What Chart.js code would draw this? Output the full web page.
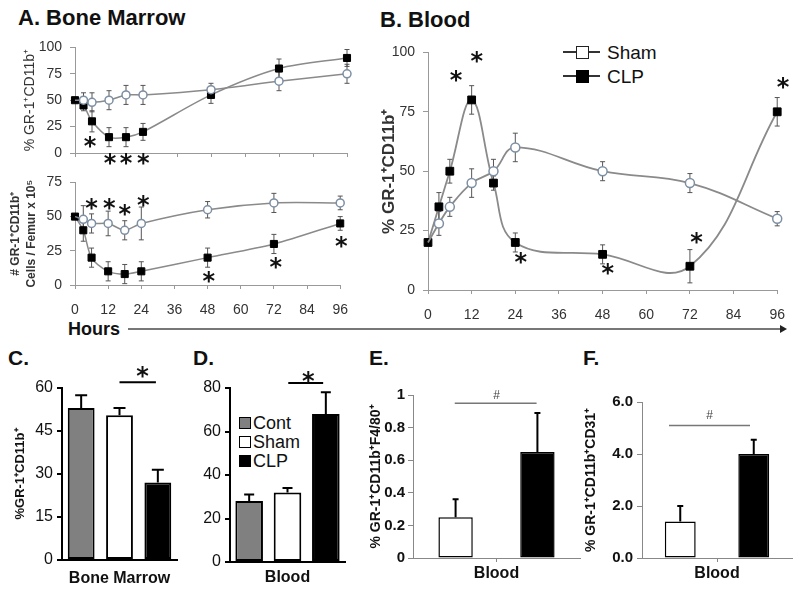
<!DOCTYPE html>
<html><head><meta charset="utf-8">
<script src="https://cdn.jsdelivr.net/npm/chart.js@4.4.1/dist/chart.umd.min.js"></script>
<style>
html,body{margin:0;padding:0;background:#fff;width:800px;height:590px;overflow:hidden;font-family:"Liberation Sans",Arial,sans-serif;}
canvas{position:absolute;}
.t{position:absolute;font-weight:bold;white-space:nowrap;line-height:1;color:#111;}
.lg{position:absolute;white-space:nowrap;line-height:1;color:#111;}
.sq{position:absolute;box-sizing:border-box;}
</style></head><body>
<svg style="position:absolute;left:0;top:0" width="800" height="590">
  <line x1="128" y1="329" x2="781" y2="329" stroke="#777" stroke-width="2"/>
  <polygon points="780,325 787,329 780,333" fill="#222"/>
</svg>
<div class="t" style="left:18px;top:7px;font-size:22px">A. Bone Marrow</div>
<div class="t" style="left:380px;top:9px;font-size:22px">B. Blood</div>
<div class="t" style="left:8px;top:347px;font-size:21px">C.</div>
<div class="t" style="left:193px;top:347px;font-size:21px">D.</div>
<div class="t" style="left:369px;top:347px;font-size:21px">E.</div>
<div class="t" style="left:583px;top:347px;font-size:21px">F.</div>
<div class="t" style="left:68px;top:320px;font-size:18px">Hours</div>

<!-- legend B -->
<div style="position:absolute;left:563px;top:51px;width:37px;height:2px;background:#333"></div>
<div class="sq" style="left:576px;top:46px;width:13px;height:13px;background:#fff;border:1.5px solid #222"></div>
<div class="lg" style="left:607px;top:43px;font-size:19px">Sham</div>
<div style="position:absolute;left:563px;top:75px;width:37px;height:2px;background:#333"></div>
<div class="sq" style="left:576px;top:70px;width:13px;height:13px;background:#000;border:1.5px solid #000"></div>
<div class="lg" style="left:607px;top:67px;font-size:19px">CLP</div>

<!-- legend D -->
<div class="sq" style="left:239px;top:417px;width:12px;height:12px;background:#808080;border:1.5px solid #000"></div>
<div class="lg" style="left:253px;top:414px;font-size:18px">Cont</div>
<div class="sq" style="left:239px;top:436px;width:12px;height:12px;background:#fff;border:1.5px solid #000"></div>
<div class="lg" style="left:253px;top:433px;font-size:18px">Sham</div>
<div class="sq" style="left:239px;top:455px;width:12px;height:12px;background:#000;border:1.5px solid #000"></div>
<div class="lg" style="left:253px;top:452px;font-size:18px">CLP</div>

<script>
// ---------------- data ----------------
const hours = [0, 3, 6, 12, 18, 24, 48, 72, 96];
const hourTicks = [0, 12, 24, 36, 48, 60, 72, 84, 96];

const aPctSham    = [50, 50, 48, 50, 55, 55, 60, 68, 75];
const aPctShamErr = [0, 7, 9, 9, 9, 9, 6, 9, 9];
const aPctClp     = [50, 45, 30, 15, 15, 20, 55, 80, 90];
const aPctClpErr  = [0, 5, 10, 9, 9, 8, 8, 9, 8];
const aPctStars   = [[5.3, 10], [12.4, -6], [18, -6], [24.1, -6]];

const aNumSham    = [50, 48, 45, 45, 40, 45, 55, 60, 60];
const aNumShamErr = [0, 10, 7, 9, 7, 12, 6, 7, 5];
const aNumClp     = [50, 40, 20, 10, 8, 10, 20, 30, 45];
const aNumClpErr  = [0, 8, 7, 7, 7, 7, 7, 7, 5];
const aNumStars   = [[6, 59], [12.4, 59], [18, 54.5], [24.7, 61.5], [48.4, 5.6], [72.7, 16], [96.4, 31.5]];

const bSham    = [20, 28, 35, 45, 50, 60, 50, 45, 30];
const bShamErr = [0, 5, 4, 6, 5, 6, 4, 4, 3];
const bClp     = [20, 35, 50, 80, 45, 20, 15, 10, 75];
const bClpErr  = [0, 6, 5, 6, 3, 4, 4, 7, 6];
const bStars   = [[7.7, 90], [13.4, 98], [25.5, 13.6], [49.4, 8.7], [73.8, 22], [97.6, 87]];

const groups = ['Cont', 'Sham', 'CLP'];
const cBoneMarrow    = [53, 50.5, 27];
const cBoneMarrowErr = [4.5, 2.5, 4.5];
const cSigLine = [1.0, 1.95, 62];
const cSigMark = [1.6, 65.6];

const dBlood    = [28, 32, 68];
const dBloodErr = [3, 2, 10];
const dSigLine = [1.02, 1.93, 82.3];
const dSigMark = [1.54, 85];

const bloodCat = ['Blood'];
const eSham = [0.25], eShamErr = [0.11];
const eClp  = [0.65], eClpErr  = [0.24];
const eSigLine = [-0.25, 0.24, 0.95];
const eSigMark = [0, 1.0];

const fSham = [1.4], fShamErr = [0.6];
const fClp  = [4.0], fClpErr  = [0.55];
const fSigLine = [-0.32, 0.22, 5.1];
const fSigMark = [-0.05, 5.5];

// ---------------- setup ----------------
const FF = "'Liberation Sans', Arial, sans-serif";
Chart.defaults.font.family = FF;
Chart.defaults.color = '#222';
Chart.defaults.animation = false;
Chart.defaults.responsive = false;
Chart.defaults.plugins.legend.display = false;
Chart.defaults.plugins.tooltip.enabled = false;

function drawErr(chart, after) {
  const ctx = chart.ctx, ys = chart.scales.y;
  chart.data.datasets.forEach((ds, i) => {
    if (!ds.errors || (!!ds.errAfter) !== after) return;
    const meta = chart.getDatasetMeta(i);
    ctx.save();
    ctx.strokeStyle = ds.errColor || '#555';
    ctx.lineWidth = ds.errWidth || 1;
    meta.data.forEach((el, j) => {
      const e = ds.errors[j];
      if (!e) return;
      const raw = ds.data[j];
      const v = (typeof raw === 'object') ? raw.y : raw;
      const x = el.x;
      const yTop = ys.getPixelForValue(v + e);
      const yBot = ds.errUpOnly ? ys.getPixelForValue(v) : ys.getPixelForValue(v - e);
      const cap = ds.errCap || 3;
      ctx.beginPath();
      ctx.moveTo(x, yTop); ctx.lineTo(x, yBot);
      ctx.moveTo(x - cap, yTop); ctx.lineTo(x + cap, yTop);
      if (!ds.errUpOnly) { ctx.moveTo(x - cap, yBot); ctx.lineTo(x + cap, yBot); }
      ctx.stroke();
    });
    ctx.restore();
  });
}
const errPlugin = {
  id: 'errbars',
  beforeDatasetsDraw(chart) { drawErr(chart, false); },
  afterDatasetsDraw(chart) { drawErr(chart, true); }
};

function annot(o) {
  return {
    id: 'annot',
    afterDraw(chart) {
      const ctx = chart.ctx, xs = chart.scales.x, ys = chart.scales.y;
      ctx.save();
      if (o.line) {
        const [a, b, v] = o.line;
        ctx.strokeStyle = o.lineColor; ctx.lineWidth = o.lineWidth;
        ctx.beginPath();
        const y = ys.getPixelForValue(v);
        ctx.moveTo(xs.getPixelForValue(a), y);
        ctx.lineTo(xs.getPixelForValue(b), y);
        ctx.stroke();
      }
      ctx.fillStyle = o.color || '#111';
      ctx.font = o.font;
      ctx.textAlign = 'center';
      ctx.textBaseline = 'alphabetic';
      (o.marks || []).forEach(([x, v]) => {
        ctx.fillText(o.symbol, xs.getPixelForValue(x), ys.getPixelForValue(v) + o.dy);
      });
      ctx.restore();
    }
  };
}

function mk(g, config) {
  const c = document.createElement('canvas');
  const left = g.l - g.yW - g.pl, top = g.t - g.pt;
  const w = g.r + g.pr - left, h = g.b + g.xH + g.pb - top;
  c.width = w; c.height = h;
  c.style.left = left + 'px'; c.style.top = top + 'px';
  c.style.width = w + 'px'; c.style.height = h + 'px';
  document.body.appendChild(c);
  config.options.layout = { padding: { left: g.pl, right: g.pr, top: g.pt, bottom: g.pb } };
  config.options.scales.x.afterFit = s => { s.height = g.xH; };
  config.options.scales.y.afterFit = s => { s.width = g.yW; };
  config.plugins = (config.plugins || []).concat([errPlugin]);
  return new Chart(c, config);
}

const pts = vals => hours.map((h, i) => ({ x: h, y: vals[i] }));
const GREY = '#8a8a8a';
const SHAMB = '#7d8fa3';

function lineDs(vals, errs, sham, big) {
  const r = sham ? (big ? 4.5 : 4) : (big ? 5.5 : 5);
  return {
    data: pts(vals), errors: errs, errColor: '#555', errWidth: 1, errCap: 2.5,
    borderColor: GREY, borderWidth: big ? 1.8 : 1.5, tension: big ? 0.4 : 0.3, clip: false,
    pointStyle: sham ? 'circle' : 'rect',
    pointRadius: sham ? (c => c.dataIndex === 0 ? 0 : r) : r,
    pointBackgroundColor: sham ? '#fff' : '#000',
    pointBorderColor: sham ? SHAMB : '#000',
    pointBorderWidth: sham ? 1.5 : 1
  };
}
function hourX(showLabels) {
  return {
    type: 'linear', min: 0, max: 96,
    afterBuildTicks: s => { s.ticks = hourTicks.map(v => ({ value: v })); },
    ticks: { display: showLabels, font: { size: 14 }, color: '#333', padding: 13, maxRotation: 0 },
    grid: { drawOnChartArea: false, drawTicks: true, tickLength: 4, color: '#999' },
    border: { color: '#999', width: 1 }
  };
}
function valY(max, step, title, tfont) {
  return {
    min: 0, max: max,
    ticks: { stepSize: step, font: { size: 14 }, color: '#333', padding: 8 },
    grid: { drawOnChartArea: false, drawTicks: true, tickLength: 5, color: '#999' },
    border: { color: '#999', width: 1 },
    title: { display: true, text: title, font: tfont, color: '#333', padding: { top: 4, bottom: 0 } }
  };
}
const starFont = "bold 24px 'DejaVu Sans'";
const starDy = 12;

// A top
mk({ l: 75, r: 347, t: 43, b: 153, yW: 57, xH: 6, pl: 0, pr: 14, pt: 12, pb: 14 }, {
  type: 'line',
  data: { datasets: [lineDs(aPctSham, aPctShamErr, true), lineDs(aPctClp, aPctClpErr, false)] },
  options: { scales: { x: hourX(false), y: valY(100, 25, '% GR-1⁺CD11b⁺', { size: 14 }) } },
  plugins: [annot({ marks: aPctStars, symbol: '*', font: starFont, dy: starDy })]
});

// A bottom
mk({ l: 75, r: 347, t: 178, b: 285, yW: 71, xH: 34, pl: 0, pr: 14, pt: 12, pb: 4 }, {
  type: 'line',
  data: { datasets: [lineDs(aNumSham, aNumShamErr, true), lineDs(aNumClp, aNumClpErr, false)] },
  options: { scales: { x: hourX(true),
    y: valY(75, 25, ['# GR-1⁺CD11b⁺', 'Cells / Femur x 10⁵'], { size: 12, weight: 'bold', lineHeight: 1.33 }) } },
  plugins: [annot({ marks: aNumStars, symbol: '*', font: starFont, dy: starDy })]
});

// B
mk({ l: 428, r: 778, t: 48, b: 290, yW: 53, xH: 34, pl: 0, pr: 20, pt: 12, pb: 4 }, {
  type: 'line',
  data: { datasets: [lineDs(bSham, bShamErr, true, true), lineDs(bClp, bClpErr, false, true)] },
  options: { scales: { x: hourX(true), y: valY(100, 25, '% GR-1⁺CD11b⁺', { size: 17, weight: 'bold' }) } },
  plugins: [annot({ marks: bStars, symbol: '*', font: starFont, dy: starDy })]
});

function barX(showLabel, titleText) {
  return {
    type: 'category',
    ticks: { display: showLabel, font: { size: 16, weight: 'bold' }, color: '#111', padding: 2 },
    grid: { display: showLabel, offset: false, drawOnChartArea: false, drawTicks: true, tickLength: 4, color: '#888' },
    border: { color: showLabel ? '#888' : '#000', width: showLabel ? 1 : 2 },
    title: titleText ? { display: true, text: titleText, font: { size: 16, weight: 'bold' }, color: '#111', padding: { top: 0, bottom: 0 } } : { display: false }
  };
}
function barY(max, step, opts) {
  return {
    min: 0, max: max,
    ticks: Object.assign({ stepSize: step, font: { size: opts.fs, weight: opts.fw }, color: '#111', padding: opts.pad }, opts.cb ? { callback: opts.cb } : {}),
    grid: { drawOnChartArea: false, drawTicks: true, tickLength: 5, color: opts.axc, lineWidth: opts.axw },
    border: { color: opts.axc, width: opts.axw },
    title: opts.title ? { display: true, text: opts.title, font: { size: opts.tfs, weight: 'bold' }, color: '#111', padding: { top: 4, bottom: 0 } } : { display: false }
  };
}

// C
mk({ l: 62, r: 177, t: 388, b: 560, yW: 53, xH: 28, pl: 0, pr: 6, pt: 30, pb: 0 }, {
  type: 'bar',
  data: { labels: groups, datasets: [{
    data: cBoneMarrow, errors: cBoneMarrowErr, errUpOnly: true, errAfter: true, errColor: '#000', errWidth: 2, errCap: 6,
    backgroundColor: ['#808080', '#ffffff', '#000000'], borderColor: '#000', borderWidth: 2, borderSkipped: false,
    barPercentage: 0.7, categoryPercentage: 1 }] },
  options: { scales: { x: barX(false, 'Bone Marrow'),
    y: barY(60, 15, { fs: 16, fw: 'normal', pad: 4, axc: '#000', axw: 2, title: '%GR-1⁺CD11b⁺', tfs: 13 }) } },
  plugins: [annot({ line: cSigLine, lineColor: '#000', lineWidth: 2, marks: [cSigMark], symbol: '*', font: starFont, dy: starDy })]
});

// D
mk({ l: 230, r: 345, t: 388, b: 562, yW: 40, xH: 25, pl: 0, pr: 6, pt: 30, pb: 0 }, {
  type: 'bar',
  data: { labels: groups, datasets: [{
    data: dBlood, errors: dBloodErr, errUpOnly: true, errAfter: true, errColor: '#000', errWidth: 2, errCap: 5,
    backgroundColor: ['#808080', '#ffffff', '#000000'], borderColor: '#000', borderWidth: 2, borderSkipped: false,
    barPercentage: 0.72, categoryPercentage: 1 }] },
  options: { scales: { x: barX(false, 'Blood'),
    y: barY(80, 20, { fs: 16, fw: 'normal', pad: 4, axc: '#000', axw: 2 }) } },
  plugins: [annot({ line: dSigLine, lineColor: '#000', lineWidth: 2, marks: [dSigMark], symbol: '*', font: starFont, dy: starDy })]
});

function pairDs(vals, errs, fill) {
  return { data: vals, errors: errs, errUpOnly: true, errAfter: true, errColor: '#000', errWidth: 2, errCap: 3,
    backgroundColor: fill, borderColor: '#000', borderWidth: 1.5, borderSkipped: false,
    barPercentage: 0.42, categoryPercentage: 0.98 };
}

// E
mk({ l: 413, r: 580, t: 395, b: 558, yW: 49, xH: 25, pl: 0, pr: 6, pt: 30, pb: 2 }, {
  type: 'bar',
  data: { labels: bloodCat, datasets: [pairDs(eSham, eShamErr, '#fff'), pairDs(eClp, eClpErr, '#000')] },
  options: { scales: { x: barX(true),
    y: barY(1, 0.2, { fs: 15, fw: 'bold', pad: 3, axc: '#888', axw: 1, cb: v => String(+v.toFixed(1)), title: '% GR-1⁺CD11b⁺F4/80⁺', tfs: 14 }) } },
  plugins: [annot({ line: eSigLine, lineColor: '#777', lineWidth: 1.5, marks: [eSigMark], symbol: '#', font: "12px " + FF, color: '#444', dy: 4 })]
});

// F
mk({ l: 642, r: 792, t: 402, b: 558, yW: 63, xH: 25, pl: 0, pr: 6, pt: 30, pb: 2 }, {
  type: 'bar',
  data: { labels: bloodCat, datasets: [pairDs(fSham, fShamErr, '#fff'), pairDs(fClp, fClpErr, '#000')] },
  options: { scales: { x: barX(true),
    y: barY(6, 2, { fs: 15, fw: 'bold', pad: 4, axc: '#888', axw: 1, cb: v => v.toFixed(1), title: '% GR-1⁺CD11b⁺CD31⁺', tfs: 14 }) } },
  plugins: [annot({ line: fSigLine, lineColor: '#777', lineWidth: 1.5, marks: [fSigMark], symbol: '#', font: "12px " + FF, color: '#444', dy: 4 })]
});
</script>
</body></html>
